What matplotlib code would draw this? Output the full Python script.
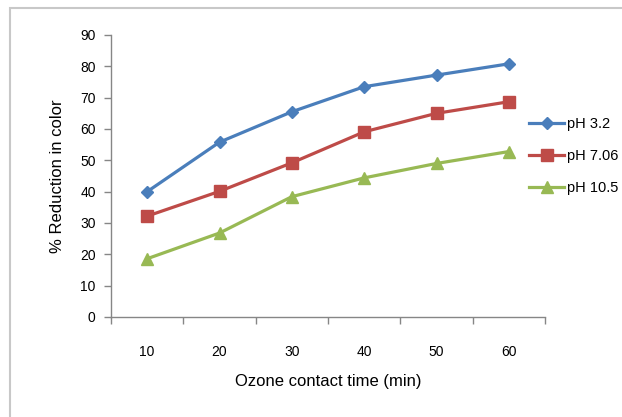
import matplotlib
matplotlib.use('Agg')
from matplotlib import pyplot as plt
from matplotlib.patches import Rectangle

contact_time = ['10', '20', '30', '40', '50', '60']
ph_3_2 = [40.0, 55.8, 65.5, 73.5, 77.2, 80.8]
ph_7_06 = [32.2, 40.1, 49.2, 59.1, 65.0, 68.7]
ph_10_5 = [18.6, 26.8, 38.4, 44.4, 49.0, 52.8]
series_names = ['pH 3.2', 'pH 7.06', 'pH 10.5']

plt.rcParams['font.family'] = ['Liberation Sans', 'DejaVu Sans']

fig = plt.figure(figsize=(6.22, 4.17), dpi=100)
fig.patch.set_facecolor('white')

# chart frame, runs off the right and bottom edges
fig.patches.append(Rectangle((10 / 622, -0.1), 1.2, 1 - 8 / 417 + 0.1,
                             transform=fig.transFigure, fill=False,
                             edgecolor='#c8c8c8', linewidth=1.5))

ax = fig.add_axes([111 / 622, 1 - 317 / 417, 434 / 622, 282 / 417])

x = range(len(contact_time))
styles = [
    (ph_3_2, '#4a7ebb', 'D', 6.5),
    (ph_7_06, '#be4b48', 's', 8),
    (ph_10_5, '#98b954', '^', 9),
]
for (vals, color, marker, ms), name in zip(styles, series_names):
    ax.plot(x, vals, color=color, linewidth=2.3, marker=marker,
            markersize=ms, markeredgecolor=color, label=name)

ax.set_xlim(-0.5, len(contact_time) - 0.5)
ax.set_ylim(0, 90)
ax.set_yticks(range(0, 91, 10))
ax.set_xticks(list(x))
ax.set_xticklabels(contact_time)
ax.set_xticks([i - 0.5 for i in range(len(contact_time) + 1)], minor=True)
ax.tick_params(axis='x', which='major', length=0, pad=20, labelsize=10)
ax.tick_params(axis='x', which='minor', length=5, color='#868686', width=1)
ax.tick_params(axis='y', length=5, color='#868686', width=1, labelsize=10, pad=6)

for side in ('top', 'right'):
    ax.spines[side].set_visible(False)
for side in ('left', 'bottom'):
    ax.spines[side].set_color('#868686')
    ax.spines[side].set_linewidth(1)

ax.set_xlabel('Ozone contact time (min)', fontsize=12, labelpad=11)
ax.set_ylabel('% Reduction in color', fontsize=12, labelpad=11)

ax.legend(loc='center left', bbox_to_anchor=(0.95, 0.57), frameon=False,
          fontsize=10.5, handlelength=2.4, handletextpad=0.2, labelspacing=1.25,
          borderaxespad=0)

fig.savefig('out.png', dpi=100, facecolor='white')
